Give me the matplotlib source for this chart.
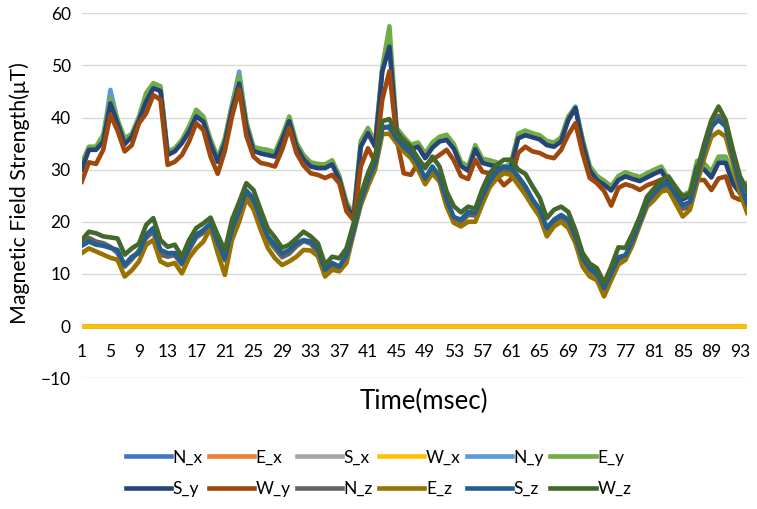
import matplotlib
matplotlib.use("Agg")
import matplotlib.pyplot as plt

plt.rcParams['font.family'] = ['Lato', 'DejaVu Sans']

# time axis (samples)
t = list(range(1, 95))

# x components: all zero
N_x = [0.0] * 94
E_x = [0.0] * 94
S_x = [0.0] * 94
W_x = [0.0] * 94

# y components
S_y = [30.0, 33.8, 33.8, 35.4, 42.7, 38.9, 34.9, 36.3, 39.5, 43.1,
       45.6, 45.1, 32.8, 33.5, 35.1, 37.3, 40.2, 39.2, 35.0, 31.5,
       35.1, 41.5, 46.5, 38.3, 33.6, 33.1, 32.8, 32.5, 35.7, 39.3,
       34.4, 32.0, 30.6, 30.3, 30.3, 31.0, 28.1, 23.0, 20.8, 34.4,
       37.0, 34.4, 48.8, 53.6, 37.3, 35.5, 33.9, 34.4, 32.2, 34.2,
       35.4, 35.7, 34.0, 30.7, 29.8, 33.9, 31.3, 30.9, 30.6, 29.5,
       30.6, 36.0, 36.6, 36.2, 35.8, 34.7, 34.4, 35.4, 39.5, 41.8,
       35.1, 29.9, 28.0, 27.1, 26.0, 28.0, 28.7, 28.2, 27.8, 28.5,
       29.2, 29.8, 27.4, 25.5, 24.3, 25.0, 30.6, 30.0, 28.5, 31.3,
       31.3, 27.3, 25.5, 25.0]
N_y = [30.6, 34.2, 34.1, 35.9, 45.3, 39.4, 35.3, 36.7, 39.9, 43.9,
       46.0, 45.6, 33.2, 33.9, 35.5, 37.8, 40.8, 39.7, 35.4, 31.9,
       35.6, 42.3, 48.8, 38.9, 34.0, 33.6, 33.2, 32.9, 36.1, 39.8,
       34.8, 32.4, 31.0, 30.7, 30.7, 31.5, 28.5, 23.4, 21.2, 35.0,
       37.6, 34.9, 49.2, 54.0, 37.6, 35.9, 34.3, 34.8, 32.6, 34.7,
       35.9, 36.2, 34.4, 31.1, 30.2, 34.3, 31.7, 31.3, 31.0, 29.9,
       31.0, 36.5, 37.1, 36.6, 36.2, 35.1, 34.8, 35.9, 40.0, 42.1,
       35.5, 30.3, 28.4, 27.5, 26.4, 28.4, 29.1, 28.6, 28.2, 28.9,
       29.6, 30.2, 27.8, 25.9, 24.7, 25.4, 31.0, 30.4, 28.9, 31.7,
       31.7, 27.7, 26.0, 26.3]
E_y = [31.2, 34.4, 34.4, 36.7, 43.7, 39.6, 36.0, 36.9, 40.2, 44.7,
       46.6, 46.0, 33.5, 34.1, 35.7, 38.3, 41.5, 40.2, 35.8, 32.3,
       36.0, 42.5, 47.9, 39.2, 34.4, 34.0, 33.8, 33.3, 36.5, 40.2,
       35.2, 32.8, 31.4, 31.1, 31.0, 31.8, 28.8, 23.8, 21.4, 35.5,
       38.0, 35.2, 49.6, 57.5, 38.0, 36.3, 34.8, 35.2, 33.1, 35.2,
       36.3, 36.7, 34.9, 31.5, 30.6, 34.7, 32.1, 31.8, 31.4, 30.3,
       31.4, 36.9, 37.5, 37.0, 36.6, 35.5, 35.2, 36.2, 40.2, 42.0,
       35.9, 30.7, 28.8, 27.9, 26.8, 28.8, 29.5, 29.0, 28.6, 29.3,
       30.0, 30.6, 28.2, 26.3, 25.1, 25.8, 31.7, 31.2, 29.6, 32.5,
       32.5, 28.2, 26.8, 27.5]
W_y = [27.7, 31.4, 31.1, 33.8, 40.5, 37.5, 33.5, 34.7, 38.9, 40.8,
       44.3, 43.4, 30.9, 31.5, 32.8, 35.4, 38.9, 37.6, 32.5, 29.2,
       33.6, 40.2, 45.4, 36.5, 32.5, 31.3, 31.0, 30.6, 33.8, 38.0,
       33.2, 30.8, 29.3, 29.0, 28.4, 29.0, 27.4, 22.0, 20.3, 30.6,
       34.1, 31.5, 43.4, 48.9, 36.0, 29.3, 29.0, 31.3, 30.8, 31.9,
       32.8, 33.8, 31.8, 28.8, 28.2, 31.9, 29.6, 29.3, 28.7, 27.0,
       28.2, 33.2, 34.4, 33.5, 33.2, 32.5, 32.2, 33.8, 36.7, 38.9,
       33.1, 28.4, 27.4, 25.9, 23.1, 26.5, 27.2, 26.8, 26.1, 27.0,
       27.5, 28.1, 26.0, 24.0, 22.5, 22.8, 28.0, 28.0, 26.1, 28.3,
       28.7, 24.8, 24.2, 24.3]

# z components
N_z = [16.0, 16.9, 16.2, 15.9, 15.2, 14.0, 11.4, 12.8, 14.5, 16.9,
       18.1, 13.7, 13.3, 13.6, 11.8, 14.6, 17.0, 17.9, 19.3, 15.4,
       12.6, 18.0, 21.4, 25.5, 23.8, 20.0, 16.6, 14.9, 13.2, 13.9,
       15.3, 16.3, 15.8, 14.3, 10.4, 11.7, 11.1, 13.2, 18.2, 23.7,
       27.6, 30.8, 38.3, 38.0, 35.6, 34.1, 32.8, 30.8, 27.9, 30.2,
       28.4, 23.8, 20.6, 19.9, 21.3, 21.2, 24.5, 27.3, 29.3, 30.2,
       29.9, 28.2, 26.3, 23.9, 21.9, 18.3, 20.0, 20.9, 19.9, 16.8,
       12.6, 10.6, 9.7, 6.8, 9.7, 12.8, 13.3, 16.2, 19.8, 23.5,
       25.0, 26.6, 27.0, 24.6, 22.6, 23.3, 28.3, 33.4, 38.0, 40.3,
       38.4, 32.2, 26.7, 23.0]
E_z = [14.0, 14.9, 14.3, 13.7, 13.1, 12.7, 9.5, 10.7, 12.4, 15.6,
       16.5, 12.4, 11.7, 12.1, 10.1, 13.1, 14.9, 16.2, 18.8, 14.0,
       9.8, 16.5, 20.0, 24.4, 22.4, 18.5, 15.0, 13.0, 11.7, 12.4,
       13.3, 14.6, 14.5, 13.4, 9.5, 10.8, 10.5, 12.1, 17.8, 23.2,
       26.8, 30.0, 36.8, 36.9, 35.1, 33.5, 32.2, 30.0, 27.2, 29.3,
       27.7, 22.9, 19.8, 19.1, 20.0, 20.0, 23.4, 26.6, 28.3, 29.3,
       29.0, 27.1, 25.2, 23.0, 21.0, 17.2, 19.1, 20.0, 18.8, 15.9,
       11.4, 9.5, 8.8, 5.7, 8.8, 11.8, 12.7, 15.6, 19.4, 22.9,
       24.2, 25.8, 26.1, 23.5, 21.0, 22.3, 27.4, 32.2, 36.3, 37.3,
       36.3, 31.3, 25.5, 21.7]
S_z = [15.4, 16.2, 15.6, 15.4, 15.0, 14.6, 11.7, 13.3, 14.0, 17.5,
       18.8, 14.6, 14.0, 14.0, 12.1, 15.0, 17.5, 18.4, 19.7, 16.0,
       13.0, 18.6, 22.0, 26.0, 24.4, 20.6, 17.2, 15.6, 13.9, 14.6,
       15.9, 16.5, 16.2, 14.8, 10.8, 12.1, 11.4, 13.6, 18.4, 24.0,
       28.0, 31.2, 37.9, 38.3, 36.0, 34.4, 33.2, 31.2, 28.3, 30.6,
       28.7, 24.2, 20.9, 20.4, 21.9, 21.7, 24.9, 27.7, 29.7, 30.6,
       30.3, 28.7, 26.8, 24.3, 22.4, 18.8, 20.4, 21.3, 20.4, 17.2,
       13.0, 11.1, 10.1, 7.3, 10.1, 13.2, 13.6, 16.5, 20.0, 23.8,
       25.4, 27.0, 27.4, 25.1, 23.2, 23.8, 28.7, 33.8, 38.3, 39.5,
       38.3, 32.5, 27.1, 23.5]
W_z = [16.5, 18.1, 17.8, 17.2, 17.0, 16.8, 13.7, 14.9, 15.8, 19.4,
       20.7, 16.5, 15.2, 15.6, 13.3, 16.5, 18.8, 19.7, 20.8, 17.5,
       14.5, 20.4, 23.8, 27.4, 26.1, 22.3, 18.7, 17.0, 15.0, 15.6,
       16.8, 18.1, 17.2, 15.9, 11.8, 13.3, 13.0, 14.9, 19.7, 25.2,
       29.3, 32.5, 39.3, 39.7, 36.9, 35.7, 34.4, 32.2, 30.3, 32.5,
       30.6, 25.8, 23.0, 21.8, 22.9, 22.5, 26.3, 29.3, 30.9, 31.9,
       31.9, 30.0, 29.2, 26.8, 24.6, 20.7, 22.3, 22.9, 21.9, 18.4,
       14.0, 12.0, 11.1, 8.3, 11.4, 15.1, 15.0, 17.8, 21.0, 24.8,
       26.4, 28.0, 28.7, 26.7, 24.8, 25.4, 29.9, 35.0, 39.5, 42.1,
       39.5, 33.8, 28.7, 26.0]

series = [
    ("N_x", N_x, "#4472C4"), ("E_x", E_x, "#ED7D31"),
    ("S_x", S_x, "#A5A5A5"), ("W_x", W_x, "#FFC000"),
    ("N_y", N_y, "#5B9BD5"), ("E_y", E_y, "#70AD47"),
    ("S_y", S_y, "#264478"), ("W_y", W_y, "#9E480E"),
    ("N_z", N_z, "#636363"), ("E_z", E_z, "#997300"),
    ("S_z", S_z, "#255E91"), ("W_z", W_z, "#43682B"),
]

fig = plt.figure(figsize=(7.57, 5.09), dpi=100)
ax = fig.add_axes([0.108, 0.257, 0.879, 0.717])

handles = []
for name, vals, col in series:
    h, = ax.plot(t, vals, color=col, lw=3.3, label=name, solid_joinstyle='round')
    handles.append(h)

ax.set_xlim(1, 94)
ax.set_ylim(-10, 60)
ax.set_yticks(range(-10, 61, 10))
ax.set_xticks(range(1, 94, 4))
ax.grid(axis='y', color='#D9D9D9', lw=1)
ax.set_axisbelow(True)
for s in ['top', 'right', 'left']:
    ax.spines[s].set_visible(False)
ax.spines['bottom'].set_position(('data', 0))
ax.spines['bottom'].set_visible(False)
ax.tick_params(axis='both', length=0, labelsize=12.5, colors='#000000')
ax.tick_params(axis='x', pad=13)
ax.tick_params(axis='y', pad=8)

fig.text(0.56, 0.212, "Time(msec)", ha='center', va='center', fontsize=18.5)
fig.text(0.026, 0.621, "Magnetic Field Strength(\u03bcT)", ha='center', va='center',
         rotation=90, fontsize=15.3)

# legend fills column-wise, so interleave to get two rows of six
order = [0, 6, 1, 7, 2, 8, 3, 9, 4, 10, 5, 11]
fig.legend([handles[i] for i in order], [series[i][0] for i in order],
           loc='center', bbox_to_anchor=(0.5, 0.07), ncol=6, frameon=False,
           fontsize=12.5, handlelength=2.6, columnspacing=0.35, handletextpad=0.1,
           labelspacing=0.9)

fig.savefig("out.png", dpi=100)
